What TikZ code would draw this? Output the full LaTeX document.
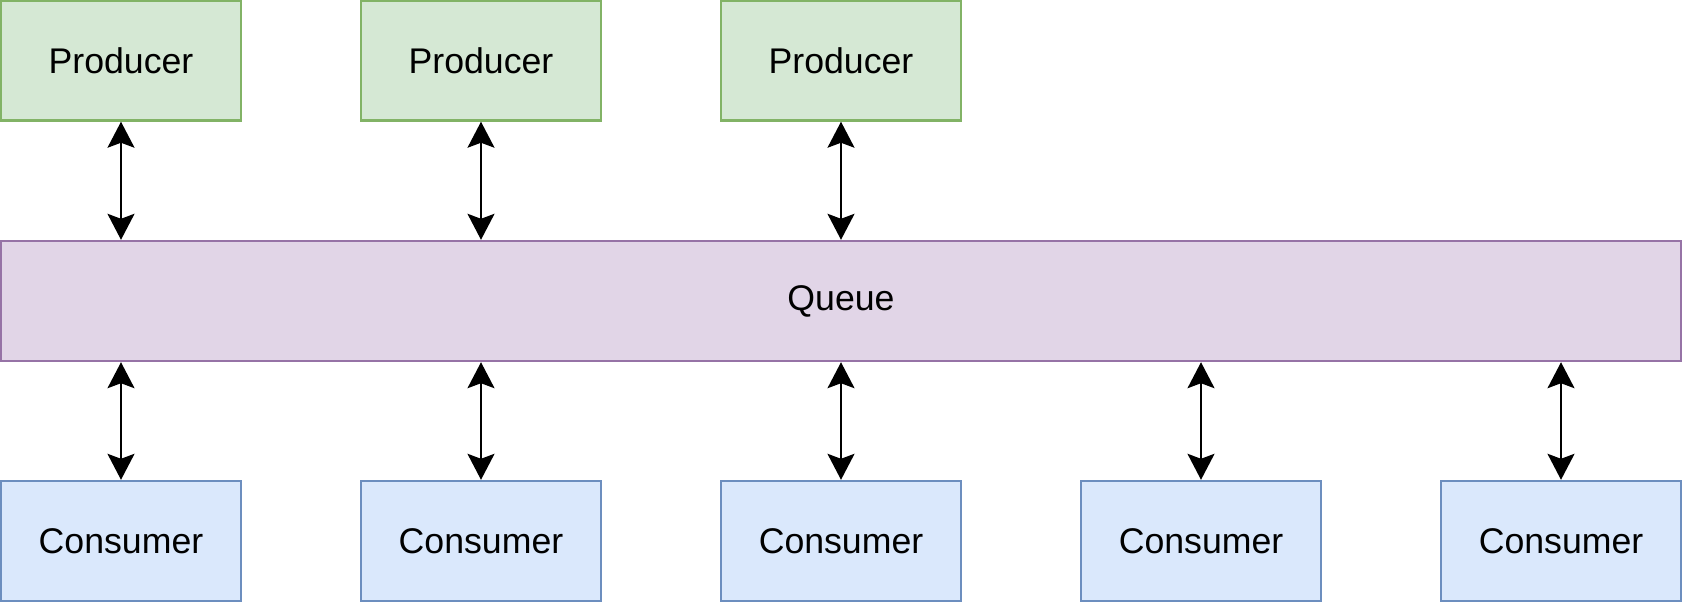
\documentclass[tikz,border=0pt]{standalone}
\usepackage{fontspec}
\setmainfont{Liberation Sans}
\usetikzlibrary{arrows.meta}
\definecolor{prodfill}{HTML}{D5E8D4}
\definecolor{proddraw}{HTML}{82B366}
\definecolor{queuefill}{HTML}{E1D5E7}
\definecolor{queuedraw}{HTML}{9673A6}
\definecolor{consfill}{HTML}{DAE8FC}
\definecolor{consdraw}{HTML}{6C8EBF}
\begin{document}
\begin{tikzpicture}[x=0.02cm, y=-0.02cm,
		box/.style = {rectangle, line width=1.4pt, minimum width=4.8cm, minimum height=2.4cm, inner sep=0pt, font=\fontsize{20.3}{24}\selectfont},
		producer/.style = {box, draw=proddraw, fill=prodfill},
		consumer/.style = {box, draw=consdraw, fill=consfill},
		queue/.style = {box, draw=queuedraw, fill=queuefill, minimum width=33.6cm},
		link/.style = {{Stealth[length=0.52cm, width=0.54cm, inset=0.1cm]}-{Stealth[length=0.52cm, width=0.54cm, inset=0.1cm]}, line width=1.1pt}]

		\useasboundingbox (0,0) rectangle (1683,603);

		% producers
		\node[producer] (p1) at (121,60.5) {Producer};
		\node[producer] (p2) at (481,60.5) {Producer};
		\node[producer] (p3) at (841,60.5) {Producer};

		% queue
		\node[queue] (q) at (841,301) {Queue};

		% consumers
		\node[consumer] (c1) at (121,541) {Consumer};
		\node[consumer] (c2) at (481,541) {Consumer};
		\node[consumer] (c3) at (841,541) {Consumer};
		\node[consumer] (c4) at (1201,541) {Consumer};
		\node[consumer] (c5) at (1561,541) {Consumer};

		% links
		\draw[link] (p1.south) -- (p1.south |- q.north);
		\draw[link] (p2.south) -- (p2.south |- q.north);
		\draw[link] (p3.south) -- (p3.south |- q.north);

		\draw[link] (q.south -| c1.north) -- (c1.north);
		\draw[link] (q.south -| c2.north) -- (c2.north);
		\draw[link] (q.south -| c3.north) -- (c3.north);
		\draw[link] (q.south -| c4.north) -- (c4.north);
		\draw[link] (q.south -| c5.north) -- (c5.north);

	\end{tikzpicture}
\end{document}
